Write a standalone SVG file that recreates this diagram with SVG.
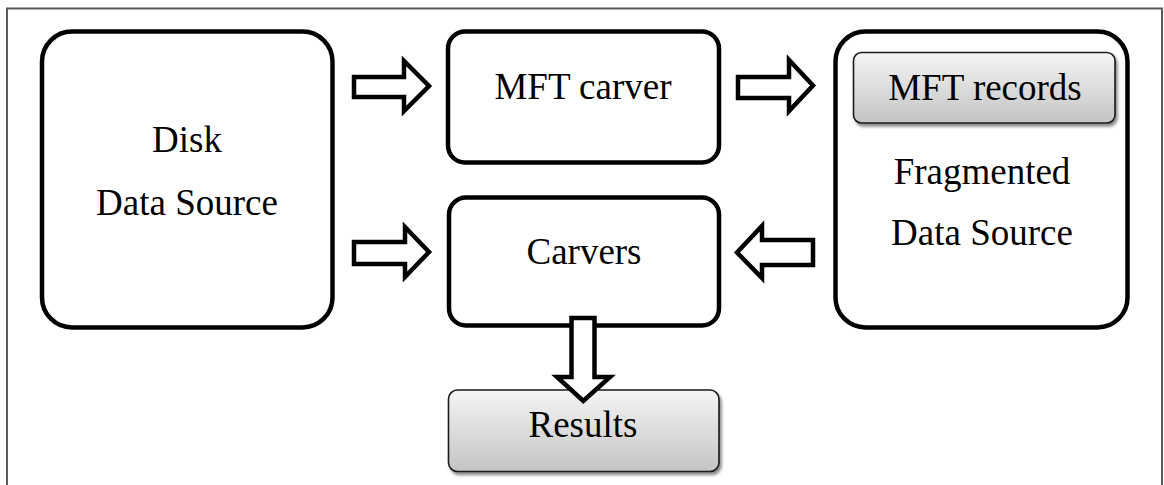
<svg xmlns="http://www.w3.org/2000/svg" width="1164" height="485" viewBox="0 0 1164 485">
  <style>
    .box { fill: #ffffff; stroke: #000000; stroke-width: 4.5; }
    .chip { fill: url(#chipFill); stroke: #1a1a1a; stroke-width: 1.6; filter: url(#shadow); }
    .arrow { fill: #ffffff; stroke: #000000; stroke-width: 4.5; stroke-linejoin: miter; stroke-miterlimit: 10; }
    .label { font-family: "Liberation Serif", "Times New Roman", serif; font-size: 37px; fill: #000000; text-anchor: middle; }
  </style>
  <defs>
    <linearGradient id="chipFill" x1="0" y1="0" x2="0" y2="1">
      <stop offset="0" stop-color="#f5f5f5"/>
      <stop offset="1" stop-color="#c4c4c4"/>
    </linearGradient>
    <filter id="shadow" x="-10%" y="-20%" width="120%" height="150%">
      <feDropShadow dx="2" dy="3" stdDeviation="1.5" flood-color="#000000" flood-opacity="0.45"/>
    </filter>
  </defs>

  <!-- frame -->
  <rect x="7" y="8.5" width="1155" height="490" fill="#ffffff" stroke="#5a5a5a" stroke-width="2"/>

  <g id="disk">
    <rect class="box" x="42" y="31.5" width="290.5" height="296" rx="30"/>
    <text class="label" x="187" y="151.5">Disk</text>
    <text class="label" x="187" y="215">Data Source</text>
  </g>

  <g id="mft-carver">
    <rect class="box" x="448" y="31.5" width="271" height="131" rx="17"/>
    <text class="label" x="583" y="98.5">MFT carver</text>
  </g>

  <g id="carvers">
    <rect class="box" x="449" y="197.5" width="270" height="128" rx="17"/>
    <text class="label" x="584" y="263.5">Carvers</text>
  </g>

  <g id="fragmented">
    <rect class="box" x="835.5" y="31.5" width="292" height="296" rx="30"/>
    <text class="label" x="982" y="183.5">Fragmented</text>
    <text class="label" x="982" y="245">Data Source</text>
  </g>

  <g id="mft-records">
    <rect class="chip" x="853.5" y="52.5" width="261.5" height="70.5" rx="8"/>
    <text class="label" x="985" y="100">MFT records</text>
  </g>

  <g id="results">
    <rect class="chip" x="448.5" y="390" width="270.5" height="81.5" rx="9"/>
    <text class="label" x="583" y="436.5">Results</text>
  </g>

  <g id="connectors">
    <!-- Disk to MFT carver -->
    <path class="arrow" d="M354,77 H404 V61 L429,86 L404,111 V97 H354 Z"/>
    <!-- Disk to Carvers -->
    <path class="arrow" d="M354,242 H405 V227 L429,252 L405,277 V264 H354 Z"/>
    <!-- MFT carver to MFT records -->
    <path class="arrow" d="M738,77 H789 V60 L813,85.5 L789,111 V98 H738 Z"/>
    <!-- Fragmented data source to Carvers -->
    <path class="arrow" d="M813,240 H762 V226 L737,252.5 L762,278 V265 H813 Z"/>
    <!-- Carvers to Results -->
    <path class="arrow" d="M571.5,318 H594.5 V377 H610 L583.3,401 L557,377 H571.5 Z"/>
  </g>
</svg>
